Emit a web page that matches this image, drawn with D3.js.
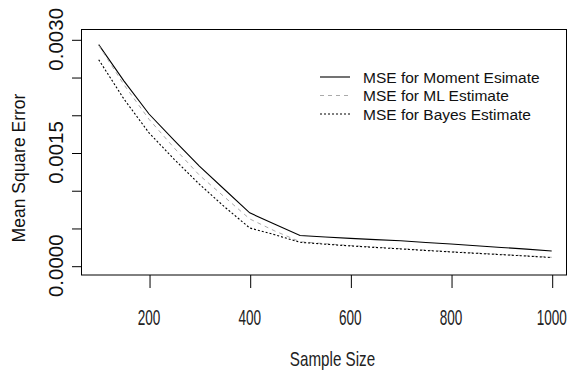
<!DOCTYPE html>
<html>
<head>
<meta charset="utf-8">
<script src="https://cdn.jsdelivr.net/npm/d3@7"></script>
<style>
  body { margin: 0; background: #fff; }
  svg { display: block; }
</style>
</head>
<body>
<div id="chart-area"></div>
<script>
// Sample sizes on the x axis
var sampleSizes = [100, 150, 200, 250, 300, 350, 400, 450, 500, 550,
                   600, 650, 700, 750, 800, 850, 900, 950, 1000];

// MSE of each estimator
var mseMoment = [0.00293, 0.00245, 0.00201, 0.00166, 0.00132, 0.00101, 0.00070, 0.00055, 0.00040, 0.000380,
                 0.000362, 0.000345, 0.000330, 0.000308, 0.000287, 0.000265, 0.000242, 0.000220, 0.000195];
var mseML     = [0.00292, 0.00240, 0.00194, 0.00156, 0.00120, 0.00091, 0.00062, 0.00046, 0.000318, 0.000292,
                 0.000267, 0.000246, 0.000226, 0.000206, 0.000186, 0.000168, 0.000150, 0.000131, 0.000111];
var mseBayes  = [0.00273, 0.00221, 0.00176, 0.00141, 0.00108, 0.00078, 0.00050, 0.00041, 0.000310, 0.000285,
                 0.000262, 0.000242, 0.000222, 0.000202, 0.000182, 0.000164, 0.000146, 0.000128, 0.000108];

var seriesNames = ["MSE for Moment Esimate", "MSE for ML Estimate", "MSE for Bayes Estimate"];

// Axis ticks
var xTicks = [200, 400, 600, 800, 1000];
var yTicks = [0, 0.0005, 0.0010, 0.0015, 0.0020, 0.0025, 0.0030];
var yLabelled = [0, 0.0015, 0.0030];

var W = 570, H = 378;

// plot box (R style frame)
var box = { left: 81, right: 566, top: 29, bottom: 274.5 };

var svg = d3.select("#chart-area")
  .append("svg")
    .attr("width", W)
    .attr("height", H);

// Scales
var x = d3.scaleLinear().domain([100, 1000]).range([98.7, 551.7]);
var y = d3.scaleLinear().domain([0, 0.003]).range([265.7, 39.3]);

// frame
svg.append("rect")
  .attr("x", box.left + 0.5)
  .attr("y", box.top + 0.5)
  .attr("width", box.right - box.left)
  .attr("height", box.bottom - box.top)
  .attr("fill", "none")
  .attr("stroke", "#000")
  .attr("stroke-width", 1);

// y axis ticks
var yAxisG = svg.append("g")
  .attr("transform", "translate(" + (box.left + 0.5) + ",0.5)")
  .call(d3.axisLeft(y).tickValues(yTicks).tickSize(9.5).tickFormat(""));
yAxisG.select(".domain").remove();

// y tick labels, rotated like R's default las=0
svg.selectAll("text.ylab")
  .data(yLabelled)
  .enter().append("text")
    .attr("class", "ylab")
    .attr("transform", function(d) { return "translate(63," + y(d) + ") rotate(-90)"; })
    .attr("text-anchor", "middle")
    .attr("font-family", "'Liberation Sans', Arial, sans-serif")
    .attr("font-size", "20.5px")
    .attr("fill", "#111")
    .text(d3.format(".4f"));

// x axis ticks
var xAxisG = svg.append("g")
  .attr("transform", "translate(0.5," + (box.bottom + 0.5) + ")")
  .call(d3.axisBottom(x).tickValues(xTicks).tickSize(13).tickFormat(""));
xAxisG.select(".domain").remove();

// x tick labels, squeezed horizontally to look like a narrow face
svg.selectAll("text.xlab")
  .data(xTicks)
  .enter().append("text")
    .attr("class", "xlab")
    .attr("transform", function(d) { return "translate(" + x(d) + ",324.5) scale(0.63,1)"; })
    .attr("text-anchor", "middle")
    .attr("font-family", "'Liberation Sans', Arial, sans-serif")
    .attr("font-size", "21.5px")
    .attr("fill", "#222")
    .text(function(d) { return d; });

// axis titles
svg.append("text")
  .attr("transform", "translate(332.5,366) scale(0.76,1)")
  .attr("text-anchor", "middle")
  .attr("font-family", "'Liberation Sans', Arial, sans-serif")
  .attr("font-size", "20px")
  .attr("fill", "#222")
  .text("Sample Size");

svg.append("text")
  .attr("transform", "translate(25,168) rotate(-90)")
  .attr("text-anchor", "middle")
  .attr("font-family", "'Liberation Sans', Arial, sans-serif")
  .attr("font-size", "17.5px")
  .attr("fill", "#111")
  .text("Mean Square Error");

// line styles for the three series
var styles = [
  { values: mseMoment, stroke: "#000",    dash: null,  width: 1.1 },
  { values: mseML,     stroke: "#aaaaaa", dash: "4,4", width: 1 },
  { values: mseBayes,  stroke: "#000",    dash: "2,2", width: 1.1 }
];

var line = d3.line()
  .x(function(d) { return x(d[0]); })
  .y(function(d) { return y(d[1]); });

svg.selectAll("path.series")
  .data(styles)
  .enter().append("path")
    .attr("class", "series")
    .attr("d", function(s) { return line(d3.zip(sampleSizes, s.values)); })
    .attr("fill", "none")
    .attr("stroke", function(s) { return s.stroke; })
    .attr("stroke-width", function(s) { return s.width; })
    .attr("stroke-dasharray", function(s) { return s.dash; });

// legend (no box)
var legendRows = [77, 95.5, 114];
var legend = svg.selectAll("g.legend")
  .data(styles)
  .enter().append("g")
    .attr("class", "legend")
    .attr("transform", function(s, i) { return "translate(0," + legendRows[i] + ")"; });

legend.append("line")
  .attr("x1", 320).attr("x2", 350)
  .attr("y1", 0).attr("y2", 0)
  .attr("stroke", function(s) { return s.stroke; })
  .attr("stroke-width", function(s) { return s.width; })
  .attr("stroke-dasharray", function(s) { return s.dash; });

legend.append("text")
  .attr("x", 363)
  .attr("y", 5.5)
  .attr("font-family", "'Liberation Sans', Arial, sans-serif")
  .attr("font-size", "15.5px")
  .attr("fill", "#111")
  .text(function(s, i) { return seriesNames[i]; });
</script>
</body>
</html>
